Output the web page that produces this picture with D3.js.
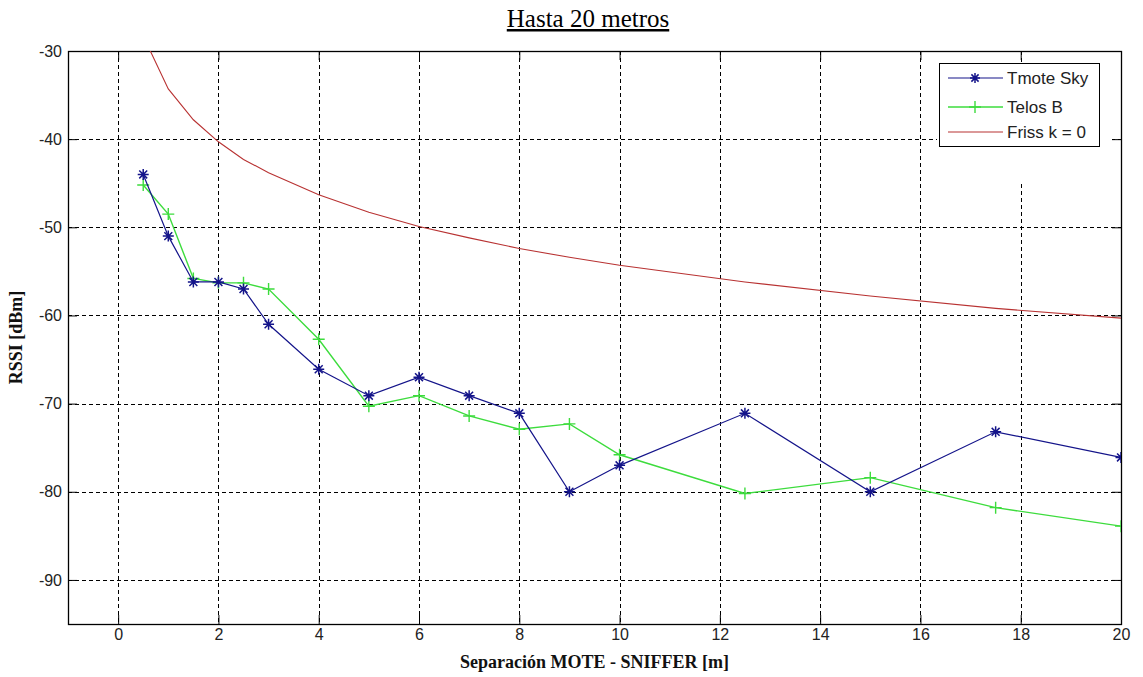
<!DOCTYPE html>
<html>
<head>
<meta charset="utf-8">
<script src="https://cdn.jsdelivr.net/npm/d3@7"></script>
<style>
  html, body { margin: 0; padding: 0; background: #fff; }
  svg { display: block; }
</style>
</head>
<body>
<svg id="chart" width="1143" height="677"></svg>
<script>
// Separation between mote and sniffer, metres
const distances = [0.5, 1, 1.5, 2, 2.5, 3, 4, 5, 6, 7, 8, 9, 10, 12.5, 15, 17.5, 20];
// Measured RSSI, dBm
const tmoteSky = [-44, -51, -56.2, -56.2, -57, -61, -66.1, -69.1, -67, -69.1, -71.1, -80, -77, -71.1, -80, -73.2, -76.1];
const telosB   = [-45.2, -48.5, -55.8, -56.3, -56.3, -57, -62.7, -70.3, -69.1, -71.4, -72.9, -72.3, -75.8, -80.2, -78.4, -81.8, -83.9];
// Free-space reference curve, dBm
const friss    = [-28.3, -34.3, -37.8, -40.3, -42.3, -43.8, -46.3, -48.3, -49.9, -51.2, -52.4, -53.4, -54.3, -56.2, -57.8, -59.2, -60.3];

const xTicks = [0, 2, 4, 6, 8, 10, 12, 14, 16, 18, 20];
const yTicks = [-30, -40, -50, -60, -70, -80, -90];
const seriesNames = ["Tmote Sky", "Telos B", "Friss k = 0"];

const titleText = "Hasta 20 metros";
const xLabel = "Separación MOTE - SNIFFER [m]";
const yLabel = "RSSI [dBm]";

const W = 1143, H = 677;
const plot = { left: 68, right: 1121, top: 51, bottom: 624 };

const x = d3.scaleLinear().domain([-1, 20]).range([plot.left, plot.right]);
const y = d3.scaleLinear().domain([-95, -30]).range([plot.bottom, plot.top]);

const svg = d3.select("#chart");
svg.append("rect").attr("width", W).attr("height", H).attr("fill", "#fff");

const tickFont = "'Liberation Sans', Arial, sans-serif";
const serif = "'Liberation Serif', 'Times New Roman', serif";

// Title (underlined, document style)
svg.append("text")
  .attr("x", 588).attr("y", 27)
  .attr("text-anchor", "middle")
  .attr("font-family", serif)
  .attr("font-size", 25)
  .attr("text-decoration", "underline")
  .attr("fill", "#000")
  .text(titleText);

// Dashed grid
const grid = svg.append("g").attr("stroke", "#000").attr("stroke-width", 1)
  .attr("stroke-dasharray", "4,3").attr("fill", "none");
grid.selectAll("line.v").data(xTicks).join("line")
  .attr("x1", d => Math.round(x(d)) + 0.5).attr("x2", d => Math.round(x(d)) + 0.5)
  .attr("y1", plot.top).attr("y2", plot.bottom);
grid.selectAll("line.h").data(yTicks).join("line")
  .attr("y1", d => Math.round(y(d)) + 0.5).attr("y2", d => Math.round(y(d)) + 0.5)
  .attr("x1", plot.left).attr("x2", plot.right);

// Axes: ticks pointing inward on all four sides
const tickLen = 9;
function styleAxis(g) {
  g.select(".domain").remove();
  g.selectAll(".tick line").attr("stroke", "#000").attr("stroke-width", 1);
  g.selectAll(".tick text").attr("font-family", tickFont).attr("font-size", 16).attr("fill", "#222");
}
svg.append("g").attr("transform", `translate(0,${plot.bottom})`)
  .call(d3.axisBottom(x).tickValues(xTicks).tickSize(-tickLen).tickPadding(5).tickFormat(d3.format("d")))
  .call(styleAxis);
svg.append("g").attr("transform", `translate(0,${plot.top})`)
  .call(d3.axisTop(x).tickValues(xTicks).tickSize(-tickLen).tickFormat(""))
  .call(styleAxis);
svg.append("g").attr("transform", `translate(${plot.left},0)`)
  .call(d3.axisLeft(y).tickValues(yTicks).tickSize(-tickLen).tickPadding(6).tickFormat(d => d3.format("d")(d).replace("−", "-")))
  .call(styleAxis);
svg.append("g").attr("transform", `translate(${plot.right},0)`)
  .call(d3.axisRight(y).tickValues(yTicks).tickSize(-tickLen).tickFormat(""))
  .call(styleAxis);

// Axis box
svg.append("rect")
  .attr("x", plot.left + 0.5).attr("y", plot.top + 0.5)
  .attr("width", plot.right - plot.left).attr("height", plot.bottom - plot.top)
  .attr("fill", "none").attr("stroke", "#000").attr("stroke-width", 1.3);

// Axis titles
svg.append("text")
  .attr("x", (plot.left + plot.right) / 2).attr("y", 668)
  .attr("text-anchor", "middle")
  .attr("font-family", serif).attr("font-weight", "bold").attr("font-size", 18)
  .attr("fill", "#111")
  .text(xLabel);
svg.append("text")
  .attr("transform", `translate(22,${(plot.top + plot.bottom) / 2}) rotate(-90)`)
  .attr("text-anchor", "middle")
  .attr("font-family", serif).attr("font-weight", "bold").attr("font-size", 18)
  .attr("fill", "#111")
  .text(yLabel);

// Data
svg.append("clipPath").attr("id", "plotClip").append("rect")
  .attr("x", plot.left).attr("y", plot.top)
  .attr("width", plot.right - plot.left).attr("height", plot.bottom - plot.top);

const colors = ["#14148a", "#3ddc3d", "#b83232"];
const lineGen = d3.line().x(d => x(d[0])).y(d => y(d[1]));
const zip = vals => distances.map((d, i) => [d, vals[i]]);

const dataLayer = svg.append("g").attr("clip-path", "url(#plotClip)");

function starPath(r) {
  const k = r * 0.72;
  return `M${-r},0H${r}M0,${-r}V${r}M${-k},${-k}L${k},${k}M${-k},${k}L${k},${-k}`;
}
function plusPath(r) {
  return `M${-r},0H${r}M0,${-r}V${r}`;
}

// Friis curve
dataLayer.append("path").datum(zip(friss))
  .attr("d", lineGen).attr("fill", "none")
  .attr("stroke", colors[2]).attr("stroke-width", 1.1);

// Telos B
dataLayer.append("path").datum(zip(telosB))
  .attr("d", lineGen).attr("fill", "none")
  .attr("stroke", colors[1]).attr("stroke-width", 1.4);
dataLayer.append("g").selectAll("path").data(zip(telosB)).join("path")
  .attr("transform", d => `translate(${x(d[0])},${y(d[1])})`)
  .attr("d", plusPath(6)).attr("fill", "none")
  .attr("stroke", colors[1]).attr("stroke-width", 1.4);

// Tmote Sky
dataLayer.append("path").datum(zip(tmoteSky))
  .attr("d", lineGen).attr("fill", "none")
  .attr("stroke", colors[0]).attr("stroke-width", 1.2);
dataLayer.append("g").selectAll("path").data(zip(tmoteSky)).join("path")
  .attr("transform", d => `translate(${x(d[0])},${y(d[1])})`)
  .attr("d", starPath(5.5)).attr("fill", "none")
  .attr("stroke", colors[0]).attr("stroke-width", 1.5);

// Legend
const legend = svg.append("g");
legend.append("rect")
  .attr("x", 937).attr("y", 63).attr("width", 175).attr("height", 120)
  .attr("fill", "#fff");
legend.append("rect")
  .attr("x", 939.5).attr("y", 63.5).attr("width", 160).attr("height", 83)
  .attr("fill", "#fff").attr("stroke", "#000").attr("stroke-width", 1);
const legendRows = [78, 107, 132];
seriesNames.forEach((name, i) => {
  const yy = legendRows[i];
  legend.append("line")
    .attr("x1", 948).attr("x2", 1003).attr("y1", yy).attr("y2", yy)
    .attr("stroke", colors[i]).attr("stroke-width", i === 1 ? 1.4 : 1.1);
  if (i === 0) {
    legend.append("path").attr("transform", `translate(975,${yy})`)
      .attr("d", starPath(5)).attr("fill", "none").attr("stroke", colors[0]).attr("stroke-width", 1.5);
  } else if (i === 1) {
    legend.append("path").attr("transform", `translate(975,${yy})`)
      .attr("d", plusPath(6)).attr("fill", "none").attr("stroke", colors[1]).attr("stroke-width", 1.4);
  }
  legend.append("text")
    .attr("x", 1007).attr("y", yy + 6)
    .attr("font-family", tickFont).attr("font-size", 17).attr("fill", "#222")
    .text(name);
});
</script>
</body>
</html>
